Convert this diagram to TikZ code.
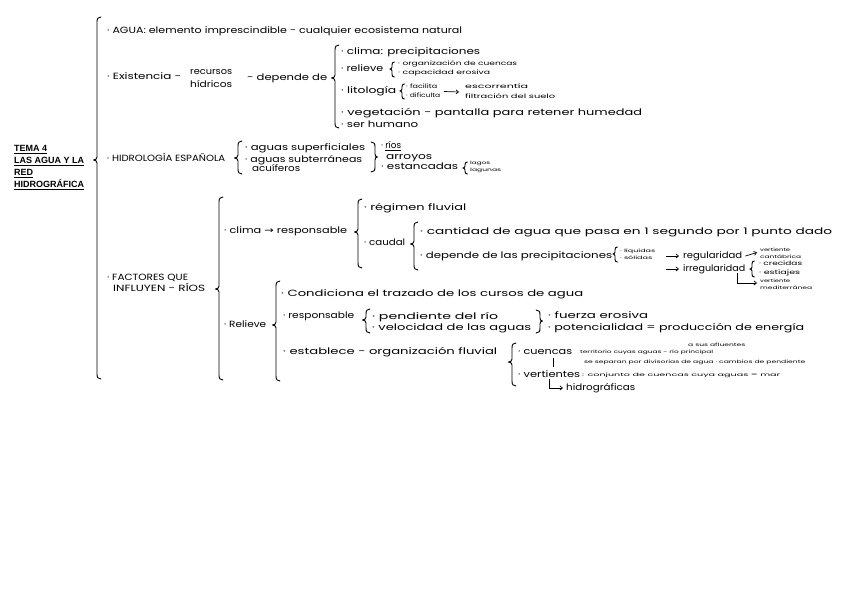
\documentclass[tikz,border=0pt]{standalone}
\usepackage{graphicx}
\usepackage{fontspec}
\setmainfont{Poppins}
\newfontfamily\titlefont{Liberation Sans}
\newfontfamily\symfont{DejaVu Sans}
\usetikzlibrary{arrows.meta,calc}
\newcommand{\Tx}[6]{\node[#1] (#2) at (#3,#4) {\resizebox{\fpeval{#5-#3}pt}{\height}{#6}};}
\newcommand{\arw}{{\symfont →}}
\newcommand{\LB}[4]{\draw[br] (#1+4,#2) .. controls (#1+1,#2) and (#1,#2+1.5) .. (#1,#2+5) -- (#1,#3-3) .. controls (#1,#3-1) and (#1-1.5,#3) .. (#1-3.5,#3) .. controls (#1-1.5,#3) and (#1,#3+1) .. (#1,#3+3) -- (#1,#4-5) .. controls (#1,#4-1.5) and (#1+1,#4) .. (#1+4,#4);}
\newcommand{\lb}[4]{\draw[br] (#1+2.5,#2) .. controls (#1+0.5,#2) and (#1,#2+1) .. (#1,#2+3) -- (#1,#3-2) .. controls (#1,#3-0.7) and (#1-1,#3) .. (#1-2.2,#3) .. controls (#1-1,#3) and (#1,#3+0.7) .. (#1,#3+2) -- (#1,#4-3) .. controls (#1,#4-1) and (#1+0.5,#4) .. (#1+2.5,#4);}
\newcommand{\RB}[4]{\draw[br] (#1-4,#2) .. controls (#1-1,#2) and (#1,#2+1.5) .. (#1,#2+5) -- (#1,#3-3) .. controls (#1,#3-1) and (#1+1,#3) .. (#1+2.5,#3) .. controls (#1+1,#3) and (#1,#3+1) .. (#1,#3+3) -- (#1,#4-5) .. controls (#1,#4-1.5) and (#1-1,#4) .. (#1-4,#4);}
\begin{document}
\begin{tikzpicture}[x=1pt,y=-1pt,
 m/.style={anchor=west,inner sep=0pt,font=\fontsize{9}{10}\selectfont,text height=6.5pt,text depth=2pt},
 s/.style={m,font=\fontsize{6}{7}\selectfont,text height=4.3pt,text depth=1.3pt},
 xs/.style={m,font=\fontsize{4.5}{5}\selectfont,text height=3.3pt,text depth=1pt},
 br/.style={line width=0.9pt,line cap=round,line join=round},
 arr/.style={line width=0.7pt,-{Straight Barb[length=2.5pt,width=4pt]}},
 ttl/.style={anchor=north west,inner sep=0pt,align=left,font=\titlefont\bfseries\fontsize{9}{12}\selectfont}]
\fill[white] (0,0) rectangle (848,599);
\useasboundingbox (0,0) rectangle (848,599);

% title
\node[ttl] (title) at (14,145) {\underline{TEMA 4}\\\underline{LAS AGUA Y LA}\\\underline{RED}\\\underline{HIDROGRÁFICA}};
\LB{97}{17}{160}{379}

% AGUA / existencia
\Tx{m}{agua}{107}{31}{462}{· AGUA: elemento imprescindible - cualquier ecosistema natural}
\Tx{m}{exist}{107}{77}{181}{· Existencia -}
\Tx{m}{recur}{190}{72}{232}{recursos}
\Tx{m}{hidri}{190}{85}{232}{hídricos}
\Tx{m}{depende}{247}{78}{327}{- depende de}
\LB{335}{45}{78}{128}
\Tx{m}{clima1}{341}{52}{480}{· clima: precipitaciones}
\Tx{m}{relieve1}{341}{69}{383}{· relieve}
\lb{392}{62}{69}{77}
\Tx{s}{orgc}{398}{64}{517}{· organización de cuencas}
\Tx{s}{capac}{398}{73}{490}{· capacidad erosiva}
\Tx{m}{lito}{341}{91}{396}{· litología}
\lb{402}{84}{91}{99}
\Tx{s}{facil}{406}{87}{437}{· facilita}
\Tx{s}{dific}{406}{96}{440}{· dificulta}
\Tx{s}{escor}{465}{87}{528}{escorrentía}
\Tx{s}{filtr}{465}{97}{555}{filtración del suelo}
\draw[arr] ($(dific.east)!0.5!(facil.east)+(5,0)$) -- ($(escor.west)!0.5!(filtr.west)+(-6,0)$);
\Tx{m}{veget}{341}{113}{642}{· vegetación - pantalla para retener humedad}
\Tx{m}{serh}{341}{125}{418}{· ser humano}

% hidrologia
\Tx{m}{hidro}{107}{159}{225}{· HIDROLOGÍA ESPAÑOLA}
\LB{238}{141}{158}{174}
\Tx{m}{supf}{245}{148}{365}{· aguas superficiales}
\Tx{m}{subt}{245}{160}{362}{· aguas subterráneas}
\Tx{m}{acui}{252}{169}{300}{acuíferos}
\RB{375}{142}{157}{172}
\Tx{m}{rios}{381}{146}{401}{· \underline{ríos}}
\Tx{m}{arroy}{386}{157}{432}{arroyos}
\Tx{m}{estan}{381}{167}{458}{· estancadas}
\lb{465}{162}{168}{174}
\Tx{xs}{lagos}{470}{163}{490}{lagos}
\Tx{xs}{lagun}{470}{170}{501}{lagunas}

% factores
\Tx{m}{fact1}{107}{278}{188}{· FACTORES QUE}
\Tx{m}{fact2}{113}{289}{205}{INFLUYEN - RÍOS}
\LB{219}{197}{289}{380}
\Tx{m}{climaf}{224}{231}{347}{· clima \arw\ responsable}
\LB{358}{199}{232}{268}
\Tx{m}{regim}{364}{208}{466}{· régimen fluvial}
\Tx{m}{caudal}{364}{243}{405}{· caudal}
\LB{414}{222}{244}{270}
\Tx{m}{cantid}{420}{232}{832}{· cantidad de agua que pasa en 1 segundo por 1 punto dado}
\Tx{m}{depprec}{420}{256}{612}{· depende de las precipitaciones}
\lb{615}{247}{254}{262}
\Tx{xs}{liq}{620}{251}{655}{· líquidas}
\Tx{xs}{sol}{620}{258}{652}{· sólidas}
\Tx{m}{reg}{683}{256}{742}{regularidad}
\Tx{xs}{vc1}{760}{250}{790}{vertiente}
\Tx{xs}{vc2}{760}{257}{801}{cantábrica}
\Tx{m}{irreg}{683}{269}{745}{irregularidad}
\lb{752}{261}{269}{277}
\Tx{s}{crec}{759}{264}{802}{· crecidas}
\Tx{s}{estia}{759}{273}{800}{· estiajes}
\Tx{xs}{vm1}{760}{281}{790}{vertiente}
\Tx{xs}{vm2}{760}{288}{812}{mediterránea}
\draw[arr] ([xshift=-17pt]reg.west) -- ([xshift=-4pt]reg.west);
\draw[arr] ([xshift=-17pt]irreg.west) -- ([xshift=-4pt]irreg.west);
\draw[arr] ([xshift=3pt]reg.east) -- ($(vc1.west)!0.5!(vc2.west)+(-3,-1)$);
\draw[arr] ([xshift=23pt]irreg.south) |- ([xshift=-3pt,yshift=-2pt]vm1.west);

% relieve
\Tx{m}{relf}{224}{325}{266}{· Relieve}
\LB{276}{281}{325}{381}
\Tx{m}{cond}{281}{294}{583}{· Condiciona el trazado de los cursos de agua}
\Tx{m}{resp}{283}{316}{354}{· responsable}
\LB{366}{309}{320}{333}
\Tx{m}{pend}{372}{317}{498}{· pendiente del río}
\Tx{m}{veloc}{372}{328}{531}{· velocidad de las aguas}
\RB{540}{310}{321}{333}
\Tx{m}{fuerza}{548}{316}{648}{· fuerza erosiva}
\Tx{m}{poten}{548}{328}{804}{· potencialidad = producción de energía}
\Tx{m}{estab}{283}{352}{497}{· establece - organización fluvial}
\LB{512}{343}{362}{386}
\Tx{m}{cuen}{518}{352}{572}{· cuencas}
\Tx{xs}{terr}{580}{352}{713}{territorio cuyas aguas - río principal}
\Tx{xs}{afl}{688}{345}{745}{a sus afluentes}
\Tx{xs}{separ}{584}{362}{805}{se separan por divisorias de agua · cambios de pendiente}
\Tx{m}{vert}{518}{375}{580}{· vertientes}
\Tx{xs}{conj}{582}{375}{780}{: conjunto de cuencas cuya aguas = mar}
\Tx{m}{hidrog}{566}{388}{635}{hidrográficas}
\draw[line width=0.7pt] ([xshift=8pt,yshift=-2pt]cuen.south) -- ++(0,9);
\draw[arr] (vert.south) |- ([xshift=-3pt]hidrog.west);
\end{tikzpicture}
\end{document}
